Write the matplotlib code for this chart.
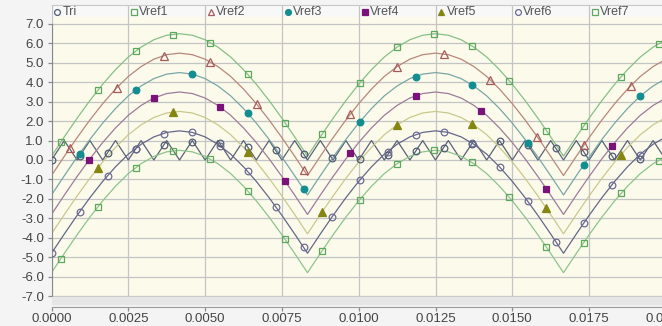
import numpy as np
import matplotlib
matplotlib.use("Agg")
import matplotlib.pyplot as plt
from matplotlib.patches import Rectangle

# ---------------- data ----------------
# sample times: one point every 1/2400 s
t_grid = np.arange(50) / 2400.0

tri = [0, 1, 0, 1, 0, 1, 0, 1, 0, 1, 0, 1, 0, 1, 0, 1, 0, 1, 0, 1,
       0, 1, 0, 1, 0, 1, 0, 1, 0, 1, 0, 1, 0, 1, 0, 1, 0, 1, 0, 1,
       0, 1, 0, 1, 0, 1, 0, 1, 0, 1]

vref1 = [0.2, 1.19, 2.15, 3.06, 3.9, 4.65, 5.3, 5.81, 6.19, 6.42, 6.5, 6.42, 6.19, 5.81, 5.3, 4.65, 3.9, 3.06, 2.15, 1.19,
         0.2, 1.19, 2.15, 3.06, 3.9, 4.65, 5.3, 5.81, 6.19, 6.42, 6.5, 6.42, 6.19, 5.81, 5.3, 4.65, 3.9, 3.06, 2.15, 1.19,
         0.2, 1.19, 2.15, 3.06, 3.9, 4.65, 5.3, 5.81, 6.19, 6.42]
vref2 = [-0.8, 0.19, 1.15, 2.06, 2.9, 3.65, 4.3, 4.81, 5.19, 5.42, 5.5, 5.42, 5.19, 4.81, 4.3, 3.65, 2.9, 2.06, 1.15, 0.19,
         -0.8, 0.19, 1.15, 2.06, 2.9, 3.65, 4.3, 4.81, 5.19, 5.42, 5.5, 5.42, 5.19, 4.81, 4.3, 3.65, 2.9, 2.06, 1.15, 0.19,
         -0.8, 0.19, 1.15, 2.06, 2.9, 3.65, 4.3, 4.81, 5.19, 5.42]
vref3 = [-1.8, -0.81, 0.15, 1.06, 1.9, 2.65, 3.3, 3.81, 4.19, 4.42, 4.5, 4.42, 4.19, 3.81, 3.3, 2.65, 1.9, 1.06, 0.15, -0.81,
         -1.8, -0.81, 0.15, 1.06, 1.9, 2.65, 3.3, 3.81, 4.19, 4.42, 4.5, 4.42, 4.19, 3.81, 3.3, 2.65, 1.9, 1.06, 0.15, -0.81,
         -1.8, -0.81, 0.15, 1.06, 1.9, 2.65, 3.3, 3.81, 4.19, 4.42]
vref4 = [-2.8, -1.81, -0.85, 0.06, 0.9, 1.65, 2.3, 2.81, 3.19, 3.42, 3.5, 3.42, 3.19, 2.81, 2.3, 1.65, 0.9, 0.06, -0.85, -1.81,
         -2.8, -1.81, -0.85, 0.06, 0.9, 1.65, 2.3, 2.81, 3.19, 3.42, 3.5, 3.42, 3.19, 2.81, 2.3, 1.65, 0.9, 0.06, -0.85, -1.81,
         -2.8, -1.81, -0.85, 0.06, 0.9, 1.65, 2.3, 2.81, 3.19, 3.42]
vref5 = [-3.8, -2.81, -1.85, -0.94, -0.1, 0.65, 1.3, 1.81, 2.19, 2.42, 2.5, 2.42, 2.19, 1.81, 1.3, 0.65, -0.1, -0.94, -1.85, -2.81,
         -3.8, -2.81, -1.85, -0.94, -0.1, 0.65, 1.3, 1.81, 2.19, 2.42, 2.5, 2.42, 2.19, 1.81, 1.3, 0.65, -0.1, -0.94, -1.85, -2.81,
         -3.8, -2.81, -1.85, -0.94, -0.1, 0.65, 1.3, 1.81, 2.19, 2.42]
vref6 = [-4.8, -3.81, -2.85, -1.94, -1.1, -0.35, 0.3, 0.81, 1.19, 1.42, 1.5, 1.42, 1.19, 0.81, 0.3, -0.35, -1.1, -1.94, -2.85, -3.81,
         -4.8, -3.81, -2.85, -1.94, -1.1, -0.35, 0.3, 0.81, 1.19, 1.42, 1.5, 1.42, 1.19, 0.81, 0.3, -0.35, -1.1, -1.94, -2.85, -3.81,
         -4.8, -3.81, -2.85, -1.94, -1.1, -0.35, 0.3, 0.81, 1.19, 1.42]
vref7 = [-5.8, -4.81, -3.85, -2.94, -2.1, -1.35, -0.7, -0.19, 0.19, 0.42, 0.5, 0.42, 0.19, -0.19, -0.7, -1.35, -2.1, -2.94, -3.85, -4.81,
         -5.8, -4.81, -3.85, -2.94, -2.1, -1.35, -0.7, -0.19, 0.19, 0.42, 0.5, 0.42, 0.19, -0.19, -0.7, -1.35, -2.1, -2.94, -3.85, -4.81,
         -5.8, -4.81, -3.85, -2.94, -2.1, -1.35, -0.7, -0.19, 0.19, 0.42]

series_names = ["Tri", "Vref1", "Vref2", "Vref3", "Vref4", "Vref5", "Vref6", "Vref7"]
x_ticks = [0.0, 0.0025, 0.005, 0.0075, 0.01, 0.0125, 0.015, 0.0175, 0.02]
y_ticks = [7.0, 6.0, 5.0, 4.0, 3.0, 2.0, 1.0, 0.0, -1.0, -2.0, -3.0, -4.0, -5.0, -6.0, -7.0]

# ---------------- styling ----------------
series_values = [tri, vref1, vref2, vref3, vref4, vref5, vref6, vref7]
line_colors = ["#5a6276", "#86c086", "#b8877c", "#79a6a8", "#9c7c9c", "#c9c88e", "#65678a", "#8dc48d"]
mk_shapes = ["o", "s", "^", "o", "s", "^", "o", "s"]
mk_edge = ["#4e5b72", "#5ea85e", "#a85a5a", "#128e90", "#7a127a", "#858512", "#6c6a94", "#5ea85e"]
mk_face = ["none", "none", "none", "#128e90", "#7a127a", "#858512", "none", "none"]
mk_slot = [0, 1, 2, 3, 4, 5, 0, 1]   # marker spacing slot of each series
mk_unit = 0.000304

plt.rcParams['font.family'] = ['Liberation Sans', 'DejaVu Sans']

W, H = 662, 326
fig = plt.figure(figsize=(W / 100, H / 100), dpi=100, facecolor="#f4f4f4")

x0_px = 51.5
px_per_s = 76.8 / 0.0025
xmax = 0.0204
y0_px = 160.0
px_per_unit = 19.43
ytop, ybot = 7.98, -7.06
top_px = y0_px - ytop * px_per_unit
bot_px = y0_px - ybot * px_per_unit
ax = fig.add_axes([x0_px / W, (H - bot_px) / H, xmax * px_per_s / W, (bot_px - top_px) / H])
ax.set_facecolor("#fcfbeb")
ax.set_xlim(0, xmax)
ax.set_ylim(ybot, ytop)

# grey band between plot and x-axis
fig.patches.append(Rectangle((x0_px / W, (H - bot_px - 7) / H), 1, 7 / H,
                             transform=fig.transFigure, color="#e6e6e6", zorder=0))

ax.set_axisbelow(True)
ax.grid(True, color="#c4c4c4", lw=0.9)
ax.axhspan(7.36, 8.2, color="#f8f8f8", zorder=0.2, lw=0)

for i, (name, vals) in enumerate(zip(series_names, series_values)):
    ax.plot(t_grid, vals, color=line_colors[i], lw=0.9, zorder=2 + i * 0.01)
    k = mk_slot[i]
    mk_t = np.arange(k * mk_unit, xmax, (k + 3) * mk_unit)
    mk_v = np.interp(mk_t, t_grid, vals)
    ax.plot(mk_t, mk_v, ls="none", marker=mk_shapes[i], ms=4.8 if mk_shapes[i] != "^" else 5.2,
            mec=mk_edge[i], mfc=mk_face[i], mew=0.9, zorder=3)
    # legend entry in the cell of the matching grid column
    lx = x_ticks[i]
    ax.plot([lx + 0.00019], [7.6], ls="none", marker=mk_shapes[i], ms=4.2,
            mec=mk_edge[i], mfc=mk_face[i], mew=0.9, clip_on=False, zorder=4)
    ax.text(lx + 0.00036, 7.6, name, fontsize=9, color="#555555", va="center", ha="left", zorder=4)

ax.set_xticks(x_ticks)
ax.set_xticklabels([f"{v:.4f}" for v in x_ticks])
ax.set_yticks(y_ticks)
ax.set_yticklabels([f"{v:.1f}" for v in y_ticks])
ax.tick_params(axis="both", labelsize=9.5, labelcolor="#444444", color="#8a8a8a", length=3, width=0.9, pad=2.5)
ax.tick_params(axis="x", pad=1.5)

ax.spines["right"].set_visible(False)
ax.spines["top"].set_color("#c8c8c8")
ax.spines["top"].set_linewidth(0.8)
ax.spines["left"].set_bounds(-7, 7)
ax.spines["left"].set_color("#8a8a8a")
ax.spines["bottom"].set_position(("outward", 7))
ax.spines["bottom"].set_color("#9a9a9a")

fig.savefig("out.png", dpi=100, facecolor=fig.get_facecolor())
